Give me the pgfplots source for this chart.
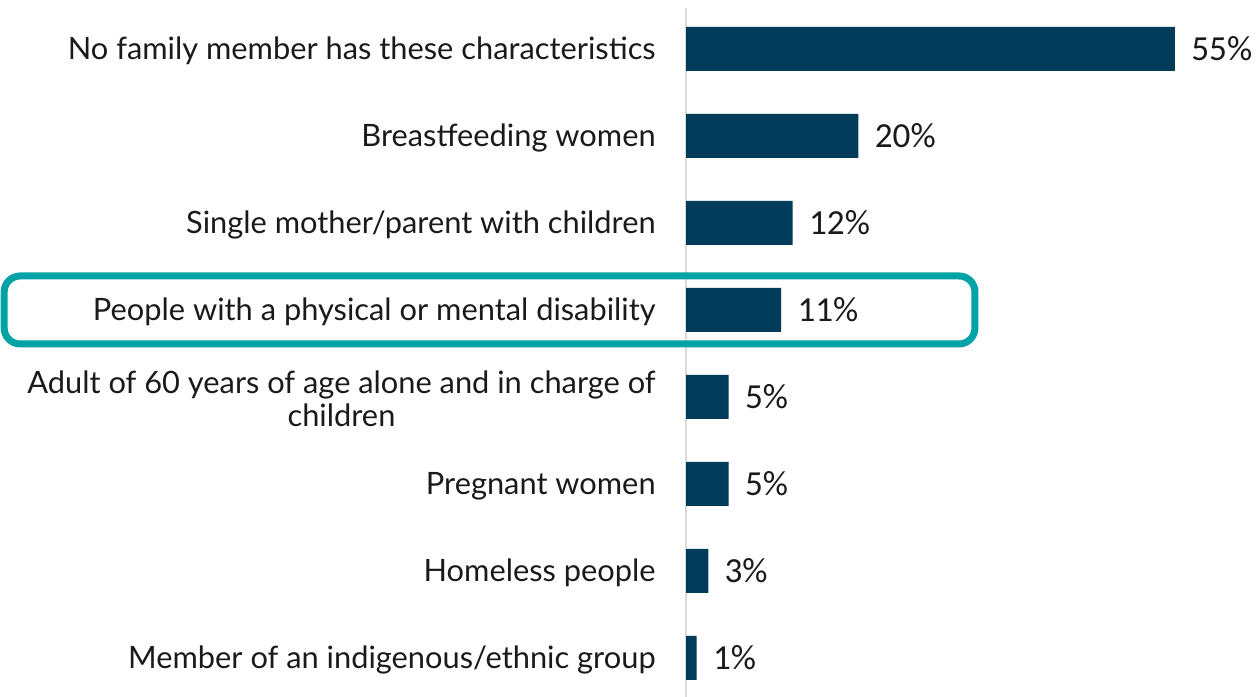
\documentclass[border=0pt]{standalone}
\usepackage{pgfplots}
\pgfplotsset{compat=1.18}
\usepackage{pgfplotstable}
\usepackage{fontspec}
\setmainfont{Lato}
\newfontfamily\valfont{Carlito}
\definecolor{barcol}{HTML}{003B5A}
\definecolor{tealbox}{HTML}{00A3A5}
\definecolor{axgray}{HTML}{D9D9D9}
\definecolor{txt}{HTML}{1A1A1A}

\pgfplotstableread{
y x lab
7 55 55
6 19.4 20
5 12 12
4 10.7 11
3 4.8 5
2 4.8 5
1 2.5 3
0 1.2 1
}\datatab

\begin{document}
\begin{tikzpicture}
\begin{axis}[
  scale only axis, width=286.5pt, height=344.5pt,
  xmin=0, xmax=64.45, ymin=-0.448, ymax=7.471,
  xbar, bar width=22pt, bar shift=0pt,
  axis x line=none, axis y line*=left,
  y axis line style={axgray, line width=1pt},
  major tick length=0pt,
  ytick={0,...,7},
  yticklabels={Member of an indigenous/ethnic group, Homeless people, Pregnant women, {Adult of 60 years of age alone and in charge of\\children}, People with a physical or mental disability, Single mother/parent with children, Breastfeeding women, No family member has these characteristics},
  yticklabel style={font=\fontsize{15.4}{16.5}\selectfont, text=txt, align=center, inner sep=0pt, xshift=-15pt, yshift=-1pt},
  point meta=explicit symbolic,
  nodes near coords={\pgfplotspointmeta\%},
  nodes near coords style={anchor=west, inner sep=0pt, xshift=8pt, font=\valfont\fontsize{17.6}{18}\selectfont, text=txt},
  clip=false,
]
\draw[tealbox, line width=3.5pt, rounded corners=8pt] (axis cs:-76.7,4.391) rectangle (axis cs:32.5,3.609);
\addplot[fill=barcol, draw=none] table[x=x, y=y, meta=lab] {\datatab};
\coordinate (bl) at (axis cs:-77.17,-0.448);
\coordinate (tr) at (axis cs:64.45,7.563);
\end{axis}
\pgfresetboundingbox
\path[use as bounding box] (bl) rectangle (tr);
\end{tikzpicture}
\end{document}
